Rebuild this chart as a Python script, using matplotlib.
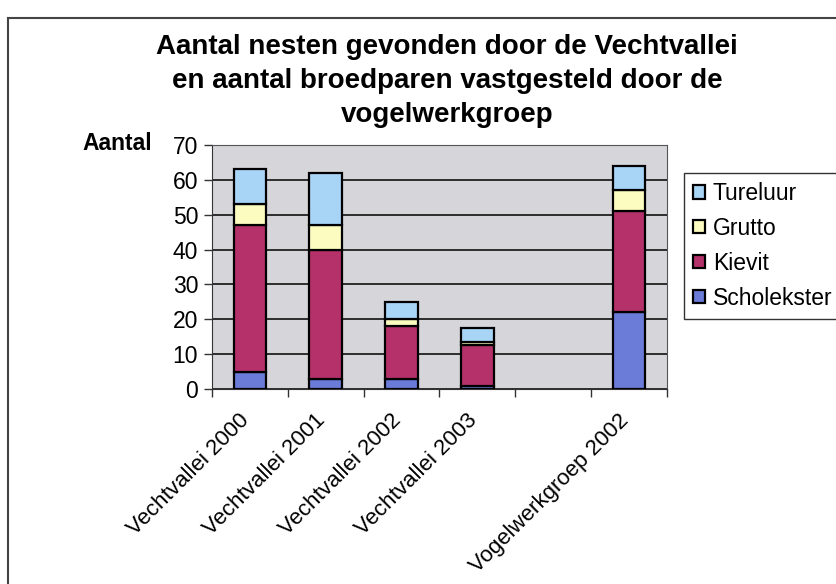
import matplotlib.pyplot as plt
import matplotlib.transforms as mtransforms
import numpy as np

# Datos
categorias = ["Vechtvallei 2000", "Vechtvallei 2001", "Vechtvallei 2002",
              "Vechtvallei 2003", "", "Vogelwerkgroep 2002"]
scholekster = [5, 3, 3, 1, 0, 22]
kievit = [42, 37, 15, 11.5, 0, 29]
grutto = [6, 7, 2, 1, 0, 6]
tureluur = [10, 15, 5, 4, 0, 7]
series = ["Scholekster", "Kievit", "Grutto", "Tureluur"]
colores = ["#6b7bd8", "#b5316a", "#fcfcc0", "#a8d4f5"]

plt.rcParams['font.family'] = ['Liberation Sans', 'DejaVu Sans']

fig = plt.figure(figsize=(8.37, 5.84), dpi=100)
ax = fig.add_axes([212 / 837, 1 - 389 / 584, 455 / 837, 244 / 584])
ax.set_facecolor("#d6d6da")

x = np.arange(len(categorias))
datos = [scholekster, kievit, grutto, tureluur]
base = np.zeros(len(categorias))
handles = []
for nombre, valores, color in zip(series, datos, colores):
    valores = np.array(valores, dtype=float)
    mask = valores > 0
    b = ax.bar(x[mask], valores[mask], bottom=base[mask], width=0.43,
               color=color, edgecolor="black", linewidth=1.6, label=nombre, zorder=3)
    handles.append(b)
    base = base + valores

ax.set_xlim(-0.5, len(categorias) - 0.5)
ax.set_ylim(0, 70)
ax.set_yticks(range(0, 71, 10))
ax.yaxis.grid(True, color="#111111", linewidth=1.2, zorder=1)

ax.set_xticks(x)
ax.set_xticklabels(categorias, rotation=45, ha="right", rotation_mode="anchor", fontsize=16)
ax.tick_params(axis="x", length=0, pad=15)
# mover las etiquetas un poco a la izquierda
desplazar = mtransforms.ScaledTranslation(-11 / 100, 0, fig.dpi_scale_trans)
for etiqueta in ax.get_xticklabels():
    etiqueta.set_transform(etiqueta.get_transform() + desplazar)
ax.set_xticks(np.arange(-0.5, len(categorias)), minor=True)
ax.tick_params(axis="x", which="minor", length=6, width=1, color="#333333")
ax.tick_params(axis="y", labelsize=16.5, length=6, width=1, color="#333333", pad=4)

for lado in ["top", "right"]:
    ax.spines[lado].set_color("#555555")
for lado in ["left", "bottom"]:
    ax.spines[lado].set_color("#333333")

fig.text(117 / 837, 1 - 143 / 584, "Aantal", fontsize=16.5, fontweight="bold",
         ha="center", va="center")

titulo = ("Aantal nesten gevonden door de Vechtvallei\n"
          "en aantal broedparen vastgesteld door de\n"
          "vogelwerkgroep")
fig.text(447 / 837, 1 - 81 / 584, titulo, fontsize=20, fontweight="bold",
         ha="center", va="center", linespacing=1.42)

leg = fig.legend(handles[::-1], series[::-1], loc="upper left",
                 bbox_to_anchor=(684 / 837, 1 - 173 / 584), fontsize=16.5,
                 frameon=True, fancybox=False, edgecolor="black", borderaxespad=0,
                 handlelength=0.5, handleheight=0.5, handletextpad=0.35,
                 labelspacing=0.52, borderpad=0.4)
leg.get_frame().set_linewidth(1.0)

# marco del grafico
fig.add_artist(plt.Line2D([8 / 837, 1.0], [1 - 18 / 584, 1 - 18 / 584],
                          color="#444444", linewidth=1.5, transform=fig.transFigure))
fig.add_artist(plt.Line2D([8 / 837, 8 / 837], [1 - 18 / 584, 0.0],
                          color="#444444", linewidth=1.5, transform=fig.transFigure))

plt.savefig("out.png", dpi=100)
